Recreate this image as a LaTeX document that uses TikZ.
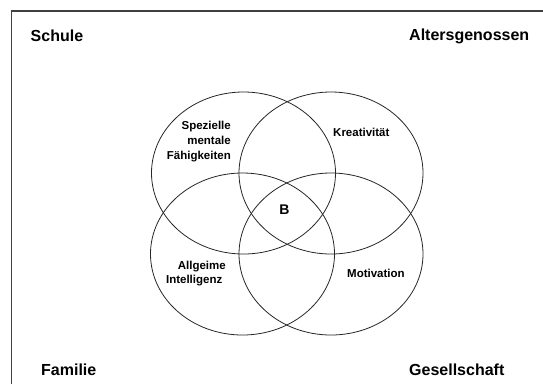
\documentclass[tikz,border=0pt]{standalone}
\usepackage{fontspec}
\setmainfont{Liberation Sans}
\begin{document}
\begin{tikzpicture}[x=1pt,y=-1pt,
  ring/.style={draw=black!85, line width=0.8pt},
  corner/.style={font=\bfseries\fontsize{16}{19}\selectfont, inner sep=0pt},
  lab/.style={font=\bfseries\fontsize{11.5}{15}\selectfont, inner sep=0pt},
  frameline/.style={draw=black!75, line width=1.5pt}]
\useasboundingbox (0,0) rectangle (543,384);
\coordinate (fa) at (11.5,384);
\coordinate (fb) at (11.5,11);
\coordinate (fc) at (543,11);
\draw[frameline] (fa) -- (fb) -- (fc);
\draw[ring] (243.5,173) ellipse [x radius=92, y radius=81];
\draw[ring] (331,173) ellipse [x radius=92, y radius=81];
\draw[ring] (242.5,254) ellipse [x radius=92, y radius=81];
\draw[ring] (331,254) ellipse [x radius=92, y radius=81];
\node[corner, anchor=west] (s) at (30.5,36) {Schule};
\node[corner, anchor=west] (a) at (409,36) {Altersgenossen};
\node[corner, anchor=west] (f) at (41,369.5) {Familie};
\node[corner, anchor=west] (g) at (409,369.5) {Gesellschaft};
\node[lab, align=right, anchor=east] (sp) at (231,142) {Spezielle\\mentale\\Fähigkeiten};
\node[lab, anchor=west] (k) at (333,132.5) {Kreativität};
\node[font=\bfseries\fontsize{14}{16}\selectfont, inner sep=0pt] (b) at (284.5,210) {B};
\node[lab, anchor=east] (al) at (226,266.5) {Allgeime};
\node[lab, anchor=east] (in) at (222.5,281) {Intelligenz};
\node[lab, anchor=west] (m) at (347,273.5) {Motivation};
\end{tikzpicture}
\end{document}
